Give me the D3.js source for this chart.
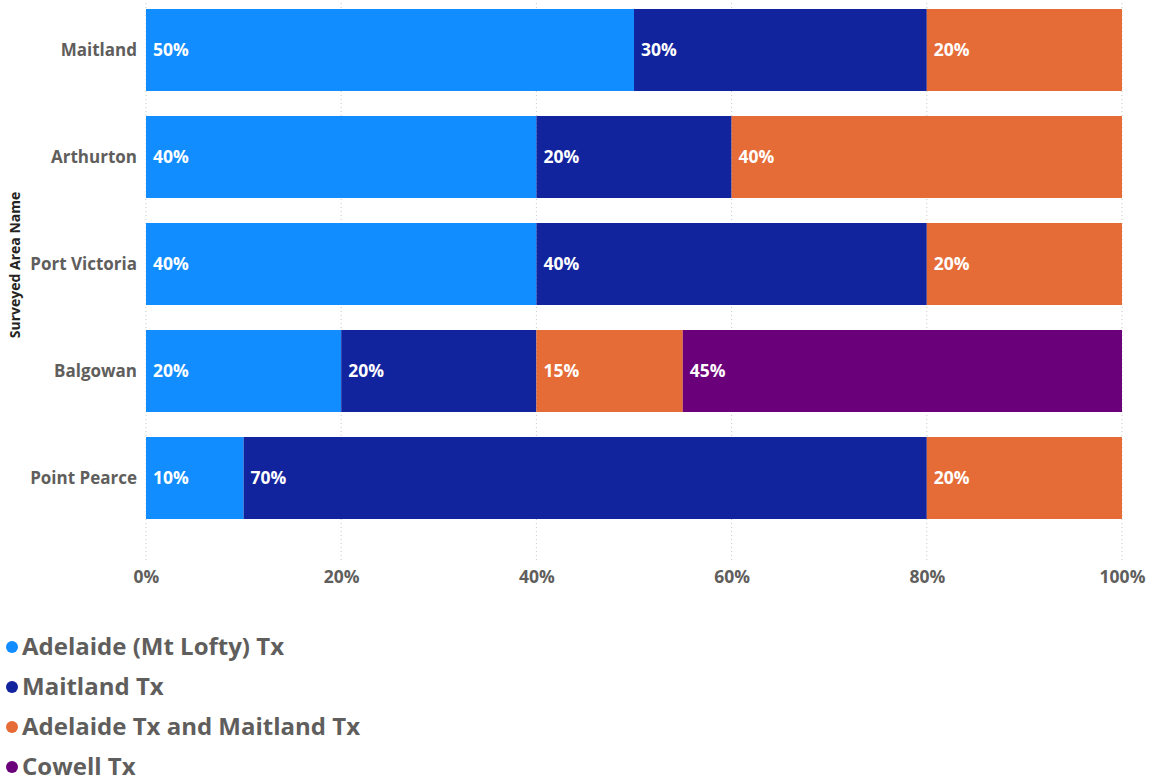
<!DOCTYPE html>
<html><head><meta charset="utf-8">
<script src="https://cdn.jsdelivr.net/npm/d3@7"></script>
<style>body{margin:0;background:#fff;}text{font-family:"Open Sans",sans-serif;}</style>
</head><body>
<svg id="c" width="1152" height="780"></svg>
<script>
const categories = ["Maitland","Arthurton","Port Victoria","Balgowan","Point Pearce"];
const seriesNames = ["Adelaide (Mt Lofty) Tx","Maitland Tx","Adelaide Tx and Maitland Tx","Cowell Tx"];
const adelaideMtLofty = [50,40,40,20,10];
const maitlandTx = [30,20,40,20,70];
const adelaideAndMaitland = [20,40,20,15,20];
const cowellTx = [0,0,0,45,0];
const xTicks = [0,20,40,60,80,100];
const colors = ["#118DFF","#12239E","#E66C37","#6B007B"];

const seriesVals = [adelaideMtLofty, maitlandTx, adelaideAndMaitland, cowellTx];
const rows = categories.map((c,i)=>{const o={cat:c}; seriesNames.forEach((s,j)=>o[s]=seriesVals[j][i]); return o;});
const stacked = d3.stack().keys(seriesNames)(rows);

const svg = d3.select("#c");
const x = d3.scaleLinear().domain([0,100]).range([146,1122]);
const pi = 25/107;
const y = d3.scaleBand().domain(categories).range([-3.5,531.5]).paddingInner(pi).paddingOuter(pi/2);

// gridlines
svg.append("g").selectAll("line").data(xTicks).join("line")
  .attr("x1",d=>x(d)).attr("x2",d=>x(d)).attr("y1",3).attr("y2",563)
  .attr("stroke","#c8c8c8").attr("stroke-dasharray","1,3").attr("stroke-width",1);

// bars
const g = svg.append("g");
stacked.forEach((layer,j)=>{
  g.append("g").selectAll("rect").data(layer.filter(d=>d[1]-d[0]>0)).join("rect")
    .attr("x",d=>x(d[0])).attr("width",d=>x(d[1])-x(d[0]))
    .attr("y",d=>y(d.data.cat)).attr("height",y.bandwidth())
    .attr("fill",colors[j]);
});
stacked.forEach((layer,j)=>{
  g.append("g").selectAll("text").data(layer.filter(d=>d[1]-d[0]>0)).join("text")
    .attr("x",d=>x(d[0])+7).attr("y",d=>y(d.data.cat)+y.bandwidth()/2)
    .attr("dy","0.35em").attr("fill","#fff").attr("font-size",17.5).attr("font-weight",700)
    .text(d=>(d[1]-d[0])+"%");
});

// y axis labels
svg.append("g").selectAll("text").data(categories).join("text")
  .attr("x",137).attr("y",d=>y(d)+y.bandwidth()/2).attr("dy","0.35em")
  .attr("text-anchor","end").attr("fill","#605E5C").attr("font-size",17).attr("font-weight",700)
  .text(d=>d);

// x axis
const xAxis = d3.axisBottom(x).tickValues(xTicks).tickFormat(d=>d+"%").tickSize(0).tickPadding(0);
const ax = svg.append("g").attr("transform","translate(0,571)").call(xAxis);
ax.select(".domain").remove();
ax.selectAll("text").attr("font-size",17.5).attr("font-weight",700).attr("fill","#605E5C")
  .attr("font-family","'Open Sans',sans-serif");

// y title
svg.append("text").attr("transform","translate(20,265) rotate(-90)")
  .attr("text-anchor","middle").attr("font-size",14).attr("font-weight",700).attr("fill","#252423")
  .text("Surveyed Area Name");

// legend
const lg = svg.append("g").selectAll("g").data(seriesNames).join("g")
  .attr("transform",(d,i)=>`translate(0,${647+i*40})`);
lg.append("circle").attr("cx",12).attr("cy",0).attr("r",6).attr("fill",(d,i)=>colors[i]);
lg.append("text").attr("x",22).attr("y",0).attr("dy","0.35em").attr("font-size",24).attr("font-weight",700)
  .attr("fill","#605E5C").text(d=>d);
</script>
</body></html>
